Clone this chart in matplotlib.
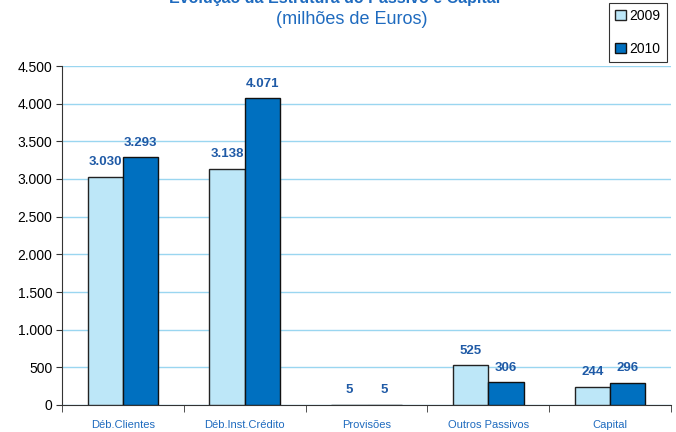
import numpy as np
import matplotlib
matplotlib.use('Agg')
import matplotlib.pyplot as plt

plt.rcParams['font.family'] = ['Liberation Sans', 'DejaVu Sans']

categorias = ['Déb.Clientes', 'Déb.Inst.Crédito', 'Provisões', 'Outros Passivos', 'Capital']
v2009 = [3030, 3138, 5, 525, 244]
v2010 = [3293, 4071, 5, 306, 296]
anos = ['2009', '2010']
yticks = [0, 500, 1000, 1500, 2000, 2500, 3000, 3500, 4000, 4500]

azul_claro = '#BDE7F8'
azul_escuro = '#0070C0'
azul_texto = '#1F6BBF'
azul_label = '#1F5AA6'

fig = plt.figure(figsize=(6.76, 4.32), dpi=100)
ax = fig.add_axes([62/676, 27/432, 609/676, 339/432])

x = np.arange(len(categorias))
w = 0.29
b1 = ax.bar(x - w/2, v2009, w, color=azul_claro, edgecolor='#222222', linewidth=1.0, label=anos[0], zorder=3)
b2 = ax.bar(x + w/2, v2010, w, color=azul_escuro, edgecolor='#111111', linewidth=1.0, label=anos[1], zorder=3)

def fmt(v):
    return f'{v:,}'.replace(',', '.')

for bars, vals in [(b1, v2009), (b2, v2010)]:
    for r, v in zip(bars, vals):
        ax.annotate(fmt(v), (r.get_x() + r.get_width()/2, v), xytext=(0, 6),
                    textcoords='offset points', ha='center', va='bottom',
                    fontsize=9.5, fontweight='bold', color=azul_label, zorder=4)

ax.set_xlim(-0.5, len(categorias) - 0.5)
ax.set_ylim(0, 4500)
ax.set_yticks(yticks)
ax.set_yticklabels([fmt(t) for t in yticks], fontsize=10, color='black')
ax.yaxis.grid(True, color='#9AD6F0', linewidth=1.0, zorder=0)
ax.set_axisbelow(True)

ax.set_xticks(x)
ax.set_xticklabels(categorias, fontsize=8, color=azul_texto)
ax.set_xticks(np.arange(len(categorias) + 1) - 0.5, minor=True)
ax.tick_params(axis='x', which='major', length=0, pad=11)
ax.tick_params(axis='x', which='minor', length=5, direction='out', color='#333333')
ax.tick_params(axis='y', length=4, direction='out', color='#333333', pad=3)

for s in ['top', 'right']:
    ax.spines[s].set_visible(False)
for s in ['left', 'bottom']:
    ax.spines[s].set_color('#333333')

fig.text(335/676, 1.0 + 1/432, 'Evolução da Estrutura do Passivo e Capital', ha='center', va='center',
         fontsize=11.5, fontweight='bold', color=azul_texto)
fig.text(352/676, 1 - 20/432, '(milhões de Euros)', ha='center', va='center',
         fontsize=13, color=azul_texto)

leg = fig.legend(handles=[b1, b2], labels=anos, loc='upper right',
                 bbox_to_anchor=(667/676, 1 - 3/432), frameon=True, fancybox=False,
                 edgecolor='black', fontsize=10, handlelength=0.75, handleheight=0.75,
                 handletextpad=0.3, borderpad=0.45, labelspacing=1.35, borderaxespad=0)
leg.get_frame().set_linewidth(0.8)

fig.savefig('out.png', dpi=100)
